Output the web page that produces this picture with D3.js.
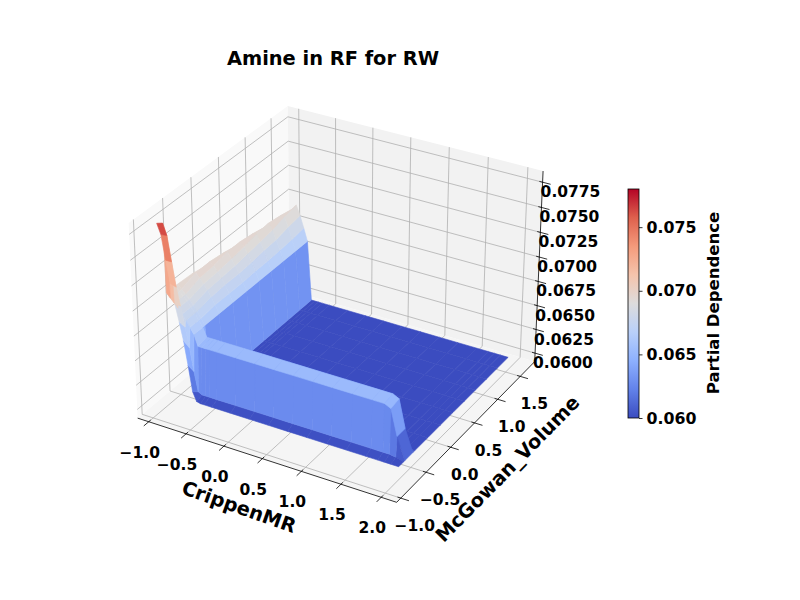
<!DOCTYPE html>
<html>
<head>
<meta charset="utf-8">
<script src="https://cdn.jsdelivr.net/npm/d3@7"></script>
<style>
  body { margin: 0; background: #fff; }
  svg { font-family: "DejaVu Sans", sans-serif; font-weight: bold; }
</style>
</head>
<body>
<svg id="chart" width="800" height="600"></svg>
<script>
// limits of the 3d box (pane edges) and the ticks on it
const xLim = [-1.15, 2.19];
const yLim = [-1.08, 1.83];
const zLim = [0.0591, 0.0786];
const xTicks = [-1.0, -0.5, 0.0, 0.5, 1.0, 1.5, 2.0];
const yTicks = [-1.0, -0.5, 0.0, 0.5, 1.0, 1.5];
const zTicks = [0.0600, 0.0625, 0.0650, 0.0675, 0.0700, 0.0725, 0.0750, 0.0775];
const cbarTicks = [0.060, 0.065, 0.070, 0.075];
const cbarDomain = [0.0600, 0.0780];

// partial dependence grid: columns = CrippenMR, rows = McGowan_Volume
const crippenMR = [-1.10, -1.05, -1.00, -0.95, -0.90, -0.85, -0.80, -0.75, -0.70, -0.65, -0.60, -0.55, -0.45,
                   -0.20, 0.05, 0.30, 0.55, 0.80, 1.05, 1.30, 1.55, 1.70, 1.78, 1.86, 1.96];
const mcgowanVolume = [-0.68, -0.58, -0.56, -0.40, -0.36, -0.10, 0.16, 0.42, 0.66, 0.90, 1.14, 1.38, 1.62];
const partialDep = [
  [0.0770, 0.0760, 0.0736, 0.0714, 0.0695, 0.0678, 0.0660, 0.0636, 0.0610, 0.0601, 0.0600, 0.0600, 0.0600, 0.0600, 0.0600, 0.0600, 0.0600, 0.0600, 0.0600, 0.0600, 0.0600, 0.0600, 0.0600, 0.0600, 0.0600],
  [0.0766, 0.0755, 0.0730, 0.0706, 0.0688, 0.0668, 0.0648, 0.0625, 0.0605, 0.0603, 0.0603, 0.0603, 0.0603, 0.0603, 0.0603, 0.0603, 0.0603, 0.0603, 0.0603, 0.0603, 0.0603, 0.0603, 0.0603, 0.0602, 0.0600],
  [0.0696, 0.0692, 0.0688, 0.0684, 0.0679, 0.0674, 0.0668, 0.0662, 0.0651, 0.0651, 0.0651, 0.0651, 0.0651, 0.0651, 0.0651, 0.0651, 0.0651, 0.0651, 0.0651, 0.0651, 0.0651, 0.0651, 0.0648, 0.0622, 0.0600],
  [0.0696, 0.0692, 0.0688, 0.0684, 0.0679, 0.0674, 0.0668, 0.0662, 0.0653, 0.0653, 0.0653, 0.0653, 0.0653, 0.0653, 0.0653, 0.0653, 0.0653, 0.0653, 0.0653, 0.0653, 0.0653, 0.0653, 0.0650, 0.0622, 0.0600],
  [0.0696, 0.0692, 0.0688, 0.0684, 0.0679, 0.0674, 0.0668, 0.0662, 0.0600, 0.0600, 0.0600, 0.0600, 0.0600, 0.0600, 0.0600, 0.0600, 0.0600, 0.0600, 0.0600, 0.0600, 0.0600, 0.0600, 0.0600, 0.0600, 0.0600],
  [0.0695, 0.0697, 0.0693, 0.0688, 0.0683, 0.0677, 0.0670, 0.0662, 0.0600, 0.0600, 0.0600, 0.0600, 0.0600, 0.0600, 0.0600, 0.0600, 0.0600, 0.0600, 0.0600, 0.0600, 0.0600, 0.0600, 0.0600, 0.0600, 0.0600],
  [0.0692, 0.0697, 0.0694, 0.0689, 0.0684, 0.0678, 0.0670, 0.0662, 0.0600, 0.0600, 0.0600, 0.0600, 0.0600, 0.0600, 0.0600, 0.0600, 0.0600, 0.0600, 0.0600, 0.0600, 0.0600, 0.0600, 0.0600, 0.0600, 0.0600],
  [0.0689, 0.0695, 0.0697, 0.0691, 0.0685, 0.0678, 0.0670, 0.0662, 0.0600, 0.0600, 0.0600, 0.0600, 0.0600, 0.0600, 0.0600, 0.0600, 0.0600, 0.0600, 0.0600, 0.0600, 0.0600, 0.0600, 0.0600, 0.0600, 0.0600],
  [0.0686, 0.0692, 0.0697, 0.0693, 0.0687, 0.0679, 0.0671, 0.0662, 0.0600, 0.0600, 0.0600, 0.0600, 0.0600, 0.0600, 0.0600, 0.0600, 0.0600, 0.0600, 0.0600, 0.0600, 0.0600, 0.0600, 0.0600, 0.0600, 0.0600],
  [0.0683, 0.0689, 0.0695, 0.0696, 0.0689, 0.0681, 0.0671, 0.0662, 0.0600, 0.0600, 0.0600, 0.0600, 0.0600, 0.0600, 0.0600, 0.0600, 0.0600, 0.0600, 0.0600, 0.0600, 0.0600, 0.0600, 0.0600, 0.0600, 0.0600],
  [0.0680, 0.0686, 0.0692, 0.0697, 0.0691, 0.0682, 0.0672, 0.0662, 0.0600, 0.0600, 0.0600, 0.0600, 0.0600, 0.0600, 0.0600, 0.0600, 0.0600, 0.0600, 0.0600, 0.0600, 0.0600, 0.0600, 0.0600, 0.0600, 0.0600],
  [0.0677, 0.0683, 0.0689, 0.0695, 0.0695, 0.0685, 0.0673, 0.0662, 0.0600, 0.0600, 0.0600, 0.0600, 0.0600, 0.0600, 0.0600, 0.0600, 0.0600, 0.0600, 0.0600, 0.0600, 0.0600, 0.0600, 0.0600, 0.0600, 0.0600],
  [0.0674, 0.0680, 0.0686, 0.0692, 0.0697, 0.0687, 0.0675, 0.0662, 0.0600, 0.0600, 0.0600, 0.0600, 0.0600, 0.0600, 0.0600, 0.0600, 0.0600, 0.0600, 0.0600, 0.0600, 0.0600, 0.0600, 0.0600, 0.0600, 0.0600]
];

// coolwarm colormap
const coolwarm = ["#3b4cc0", "#6282ea", "#8db0fe", "#b9d0f9", "#dddcdc", "#f5c4ac", "#f49a7b", "#de604d", "#b40426"];
const color = d3.scaleLinear()
  .domain(d3.range(coolwarm.length).map(i => cbarDomain[0] + i * (cbarDomain[1] - cbarDomain[0]) / (coolwarm.length - 1)))
  .range(coolwarm)
  .clamp(true);

const svg = d3.select("#chart");

// --- 3d projection (elev 30, azim -60, perspective) ---
const elev = 30 * Math.PI / 180, azim = -60 * Math.PI / 180, dist = 10;
const box = [4, 4, 3].map(b => b * 1.8294640721620434 / Math.hypot(4, 4, 3));
const wx = d3.scaleLinear().domain(xLim).range([0, box[0]]);
const wy = d3.scaleLinear().domain(yLim).range([0, box[1]]);
const wz = d3.scaleLinear().domain(zLim).range([0, box[2]]);
const w = [Math.cos(elev) * Math.cos(azim), Math.cos(elev) * Math.sin(azim), Math.sin(elev)];
const eye = box.map((b, i) => b / 2 + dist * w[i]);
const u = [-Math.sin(azim), Math.cos(azim), 0];
const v = [-Math.sin(elev) * Math.cos(azim), -Math.sin(elev) * Math.sin(azim), Math.cos(elev)];
const dot = (a, b) => a[0] * b[0] + a[1] * b[1] + a[2] * b[2];
const sx = d3.scaleLinear().domain([0, 0.1]).range([339.7, 339.7 + 259.7]);
const sy = d3.scaleLinear().domain([0, 0.1]).range([295, 295 - 259.7]);

function proj(x, y, z) {
  const d = [wx(x) - eye[0], wy(y) - eye[1], wz(z) - eye[2]];
  const depth = -dot(w, d);
  return [sx(dot(u, d) / depth), sy(dot(v, d) / depth), depth];
}
const line = d3.line();
const poly = pts => line(pts.map(p => [p[0], p[1]])) + "Z";

// --- panes ---
const [x0, x1] = xLim, [y0, y1] = yLim, [z0, z1] = zLim;
const panes = [
  { pts: [[x0, y0, z0], [x0, y1, z0], [x0, y1, z1], [x0, y0, z1]], fill: "#f9f9f9" },
  { pts: [[x0, y1, z0], [x1, y1, z0], [x1, y1, z1], [x0, y1, z1]], fill: "#f2f2f2" },
  { pts: [[x0, y0, z0], [x1, y0, z0], [x1, y1, z0], [x0, y1, z0]], fill: "#f5f5f5" }
];
svg.append("g").selectAll("path").data(panes).join("path")
  .attr("d", d => poly(d.pts.map(p => proj(...p))))
  .attr("fill", d => d.fill);

// --- gridlines ---
const grid = [];
xTicks.forEach(t => {
  grid.push([[t, y0, z0], [t, y1, z0]]);
  grid.push([[t, y1, z0], [t, y1, z1]]);
});
yTicks.forEach(t => {
  grid.push([[x0, t, z0], [x1, t, z0]]);
  grid.push([[x0, t, z0], [x0, t, z1]]);
});
zTicks.forEach(t => {
  grid.push([[x0, y0, t], [x0, y1, t]]);
  grid.push([[x0, y1, t], [x1, y1, t]]);
});
svg.append("g").selectAll("path").data(grid).join("path")
  .attr("d", d => line(d.map(p => proj(...p).slice(0, 2))))
  .attr("stroke", "#b0b0b0").attr("stroke-width", 0.8).attr("fill", "none");

// --- axis lines, ticks and labels ---
const axes = svg.append("g");
[[[x0, y0, z0], [x1, y0, z0]], [[x1, y0, z0], [x1, y1, z0]], [[x1, y1, z0], [x1, y1, z1]]].forEach(seg => {
  axes.append("path").attr("d", line(seg.map(p => proj(...p).slice(0, 2))))
    .attr("stroke", "#000").attr("stroke-width", 0.8).attr("fill", "none");
});
const yr = y1 - y0, xr = x1 - x0;
const fmt1 = t => d3.format(".1f")(t).replace("-", "\u2212");
xTicks.forEach(t => {
  const a = proj(t, y0 + 0.012 * yr, z0), b = proj(t, y0 - 0.03 * yr, z0);
  axes.append("path").attr("d", line([a.slice(0, 2), b.slice(0, 2)])).attr("stroke", "#000").attr("stroke-width", 0.8);
  const p = proj(t, y0, z0);
  axes.append("text").attr("x", p[0] - 9).attr("y", p[1] + 31)
    .attr("text-anchor", "middle").attr("dominant-baseline", "central")
    .attr("font-size", 15.5).text(fmt1(t));
});
yTicks.forEach(t => {
  const a = proj(x1 - 0.012 * xr, t, z0), b = proj(x1 + 0.03 * xr, t, z0);
  axes.append("path").attr("d", line([a.slice(0, 2), b.slice(0, 2)])).attr("stroke", "#000").attr("stroke-width", 0.8);
  const p = proj(x1, t, z0);
  axes.append("text").attr("x", p[0] + 14).attr("y", p[1] + 28)
    .attr("text-anchor", "middle").attr("dominant-baseline", "central")
    .attr("font-size", 15.5).text(fmt1(t));
});
zTicks.forEach(t => {
  const a = proj(x1 - 0.012 * xr, y1, t), b = proj(x1 + 0.03 * xr, y1, t);
  axes.append("path").attr("d", line([a.slice(0, 2), b.slice(0, 2)])).attr("stroke", "#000").attr("stroke-width", 0.8);
  const p = proj(x1, y1, t);
  axes.append("text").attr("x", p[0] - 2).attr("y", p[1] + 10)
    .attr("text-anchor", "start").attr("dominant-baseline", "central")
    .attr("font-size", 15.5).text(d3.format(".4f")(t));
});

// axis titles
const xa = proj(x0, y0, z0), xb = proj(x1, y0, z0), xm = proj((x0 + x1) / 2, y0, z0);
axes.append("text")
  .attr("transform", `translate(${xm[0] - 25},${xm[1] + 48}) rotate(${Math.atan2(xb[1] - xa[1], xb[0] - xa[0]) * 180 / Math.PI + 1.5})`)
  .attr("text-anchor", "middle").attr("dominant-baseline", "central")
  .attr("font-size", 19.4).text("CrippenMR");
const ya = proj(x1, y0, z0), yb = proj(x1, y1, z0), ym = proj(x1, (y0 + y1) / 2, z0);
axes.append("text")
  .attr("transform", `translate(${ym[0] + 39},${ym[1] + 40}) rotate(${Math.atan2(yb[1] - ya[1], yb[0] - ya[0]) * 180 / Math.PI})`)
  .attr("text-anchor", "middle").attr("dominant-baseline", "central")
  .attr("font-size", 19.4).text("McGowan_Volume");

// --- surface (painter's order, far cells first) ---
const cells = [];
for (let i = 0; i < mcgowanVolume.length - 1; i++) {
  for (let j = 0; j < crippenMR.length - 1; j++) {
    const corners = [[j, i], [j + 1, i], [j + 1, i + 1], [j, i + 1]]
      .map(([c, r]) => proj(crippenMR[c], mcgowanVolume[r], partialDep[r][c]));
    const zs = [partialDep[i][j], partialDep[i][j + 1], partialDep[i + 1][j + 1], partialDep[i + 1][j]];
    cells.push({ corners, z: d3.mean(zs), depth: d3.mean(corners, p => p[2]) });
  }
}
cells.sort((a, b) => b.depth - a.depth);
svg.append("g").selectAll("path").data(cells).join("path")
  .attr("d", d => poly(d.corners))
  .attr("fill", d => color(d.z))
  .attr("stroke", d => color(d.z)).attr("stroke-width", 0.6).attr("stroke-linejoin", "round");

// --- title ---
svg.append("text").attr("x", 333).attr("y", 58)
  .attr("text-anchor", "middle").attr("dominant-baseline", "central")
  .attr("font-size", 19.4).text("Amine in RF for RW");

// --- colorbar ---
const cb = { x: 628, y: 189, w: 11, h: 229 };
const cbScale = d3.scaleLinear().domain(cbarDomain).range([cb.y + cb.h, cb.y]);
const grad = svg.append("defs").append("linearGradient").attr("id", "cbgrad")
  .attr("x1", 0).attr("y1", 1).attr("x2", 0).attr("y2", 0);
grad.selectAll("stop").data(color.domain()).join("stop")
  .attr("offset", (d, i) => i / (coolwarm.length - 1))
  .attr("stop-color", d => color(d));
svg.append("rect").attr("x", cb.x).attr("y", cb.y).attr("width", cb.w).attr("height", cb.h)
  .attr("fill", "url(#cbgrad)");
const cbAxis = svg.append("g").attr("transform", `translate(${cb.x + cb.w},0)`)
  .call(d3.axisRight(cbScale).tickValues(cbarTicks).tickFormat(d3.format(".3f")).tickSize(3.5).tickPadding(4));
cbAxis.select(".domain").remove();
cbAxis.selectAll("text").attr("font-size", 15.8).attr("font-family", "DejaVu Sans").attr("font-weight", "bold").attr("fill", "#000");
cbAxis.selectAll("line").attr("stroke", "#000").attr("stroke-width", 0.8);
svg.append("rect").attr("x", cb.x).attr("y", cb.y).attr("width", cb.w).attr("height", cb.h)
  .attr("fill", "none").attr("stroke", "#000").attr("stroke-width", 0.8);
svg.append("text").attr("transform", `translate(713,303) rotate(-90)`)
  .attr("text-anchor", "middle").attr("dominant-baseline", "central")
  .attr("font-size", 16.5).text("Partial Dependence");
</script>
</body>
</html>
